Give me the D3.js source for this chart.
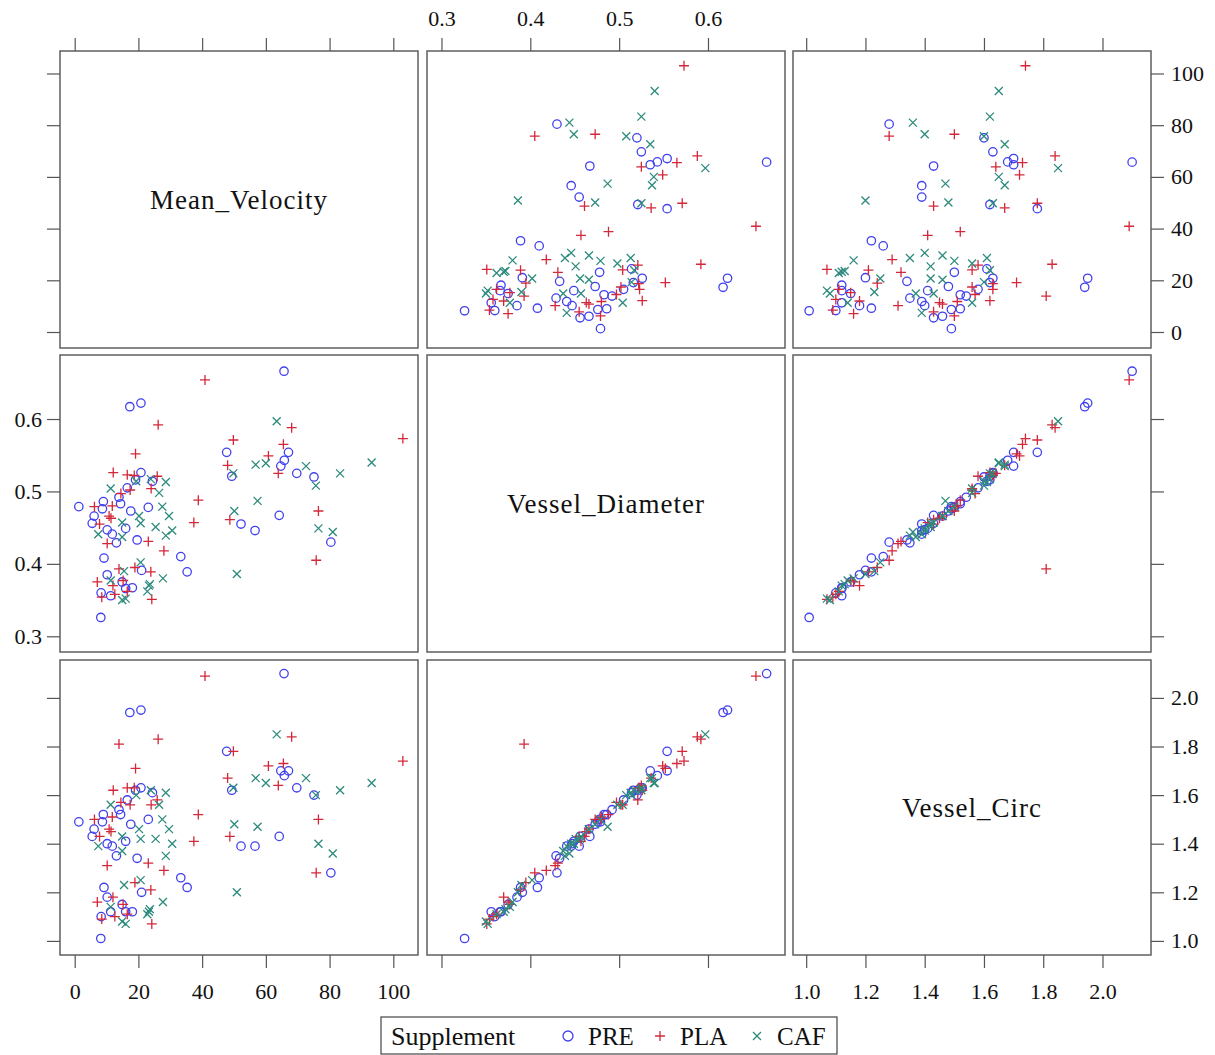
<!DOCTYPE html>
<meta charset="utf-8">
<title>Scatter matrix</title>
<body style="margin:0;background:#fff">
<style>
  text { font-family: "Liberation Serif", "Times New Roman", serif; fill: #111; }
  .tick line { stroke: #555; stroke-width: 1.2; }
  .tick text { font-size: 22px; }
</style>
<div id="matrix"></div>
<script src="https://d3js.org/d3.v7.min.js"></script>
<script>

// variables, groups and axis ticks
var varNames = ["Mean_Velocity", "Vessel_Diameter", "Vessel_Circ"];
var groups = ["PRE", "PLA", "CAF"];
var velocityTicks = [0, 20, 40, 60, 80, 100];
var diameterTicks = [0.3, 0.4, 0.5, 0.6];
var circTicks = [1.0, 1.2, 1.4, 1.6, 1.8, 2.0];

// PRE
var preVelocity = [17.3,20.8,20.8,16.5,24.4,19.1,13.9,9.0,1.3,23.1,14.4,8.7,17.6,6.1,5.5,16.0,10.2,11.8,13.1,19.6,33.3,9.2,21.0,35.3,10.2,14.9,18.1,8.3,11.3,8.2,65.7,47.7,67.1,65.8,64.7,49.3,69.7,75.1,52.2,64.2,56.6,80.4,16.0];
var preDiameter = [0.617,0.622,0.526,0.505,0.514,0.516,0.492,0.486,0.479,0.478,0.483,0.476,0.473,0.466,0.456,0.449,0.447,0.441,0.429,0.433,0.410,0.408,0.391,0.389,0.385,0.375,0.367,0.360,0.356,0.326,0.666,0.554,0.554,0.543,0.535,0.521,0.525,0.520,0.455,0.467,0.446,0.430,0.366];
var preCirc = [1.94,1.95,1.63,1.58,1.61,1.62,1.54,1.52,1.49,1.50,1.52,1.49,1.48,1.46,1.43,1.41,1.40,1.39,1.35,1.34,1.26,1.22,1.20,1.22,1.18,1.15,1.12,1.10,1.12,1.01,2.10,1.78,1.70,1.68,1.70,1.62,1.63,1.60,1.39,1.43,1.39,1.28,1.12];

// PLA
var plaVelocity = [26.2,19.1,12.1,16.5,18.7,25.9,17.4,24.0,6.2,11.8,10.8,7.8,10.2,23.1,28.0,13.9,18.9,23.9,7.1,12.0,16.5,8.5,24.2,40.9,68.1,103.0,49.8,65.5,60.8,48.0,63.9,38.8,76.5,37.4,48.7,75.8,14.5,11.4,15.2,12.6];
var plaDiameter = [0.592,0.552,0.526,0.523,0.522,0.521,0.502,0.504,0.479,0.480,0.466,0.455,0.428,0.431,0.418,0.393,0.395,0.389,0.375,0.370,0.362,0.354,0.351,0.654,0.588,0.573,0.571,0.565,0.549,0.536,0.525,0.488,0.473,0.457,0.461,0.405,0.497,0.463,0.377,0.358];
var plaCirc = [1.83,1.71,1.62,1.63,1.63,1.58,1.56,1.56,1.50,1.51,1.46,1.43,1.31,1.32,1.29,1.81,1.24,1.21,1.16,1.18,1.11,1.09,1.07,2.09,1.84,1.74,1.78,1.73,1.72,1.67,1.64,1.52,1.50,1.41,1.43,1.28,1.57,1.45,1.15,1.10];

// CAF
var cafVelocity = [19.3,23.9,28.6,11.3,26.5,27.5,20.2,29.6,14.9,20.7,25.4,7.4,14.9,28.6,30.6,20.7,27.7,11.3,23.3,22.8,16.0,63.4,56.8,60.0,72.6,93.2,49.8,83.3,75.7,57.4,50.1,76.5,81.0,50.9,15.5,14.9,23.6];
var cafDiameter = [0.514,0.517,0.513,0.504,0.498,0.479,0.466,0.466,0.457,0.456,0.451,0.441,0.437,0.439,0.446,0.402,0.380,0.377,0.370,0.362,0.352,0.597,0.537,0.539,0.535,0.540,0.525,0.525,0.508,0.487,0.473,0.449,0.444,0.386,0.390,0.350,0.372];
var cafCirc = [1.60,1.62,1.61,1.56,1.56,1.50,1.46,1.46,1.43,1.42,1.42,1.39,1.37,1.35,1.40,1.25,1.16,1.14,1.12,1.11,1.07,1.85,1.67,1.65,1.67,1.65,1.63,1.62,1.60,1.47,1.48,1.40,1.36,1.20,1.23,1.08,1.13];

// build rows: one object per vessel
var series = {
  PRE: [preVelocity, preDiameter, preCirc],
  PLA: [plaVelocity, plaDiameter, plaCirc],
  CAF: [cafVelocity, cafDiameter, cafCirc]
};
var data = [];
groups.forEach(function(g) {
  series[g][0].forEach(function(v, i) {
    data.push({group: g, vals: [v, series[g][1][i], series[g][2][i]]});
  });
});

var width = 1215, height = 1055;
var colX = [60, 427, 793], cellW = 358;
var rowY = [51, 355, 660], cellH = [297, 297, 295];

// value range across each column / down each row
var xDomains = [[-4.61, 107.75], [0.2837, 0.6867], [0.9555, 2.1637]];
var yDomains = [[-6.19, 108.7], [0.2783, 0.6884], [0.942, 2.156]];
var tickSets = [velocityTicks, diameterTicks, circTicks];
var tickFormats = [d3.format("d"), d3.format(".1f"), d3.format(".1f")];

var xScales = xDomains.map(function(dom, c) {
  return d3.scaleLinear().domain(dom).range([colX[c], colX[c] + cellW]);
});
var yScales = yDomains.map(function(dom, r) {
  return d3.scaleLinear().domain(dom).range([rowY[r] + cellH[r], rowY[r]]);
});

var color = d3.scaleOrdinal().domain(groups).range(["#4141ee", "#d2283a", "#2c8a7c"]);
var shape = {
  PRE: null,
  PLA: "M-5,0H5M0,-5V5",
  CAF: "M-4,-4L4,4M-4,4L4,-4"
};

var svg = d3.select("#matrix").append("svg")
  .attr("width", width)
  .attr("height", height);

// cells
for (var r = 0; r < 3; r++) {
  for (var c = 0; c < 3; c++) {
    var cell = svg.append("g");
    cell.append("rect")
      .attr("x", colX[c]).attr("y", rowY[r])
      .attr("width", cellW).attr("height", cellH[r])
      .attr("fill", "#fff")
      .attr("stroke", "#5f5f5f")
      .attr("stroke-width", 1.5);

    if (r === c) {
      cell.append("text")
        .attr("x", colX[c] + cellW / 2)
        .attr("y", rowY[r] + cellH[r] / 2)
        .attr("text-anchor", "middle")
        .attr("dominant-baseline", "central")
        .style("font-size", "27px")
        .style("letter-spacing", "1px")
        .text(varNames[r]);
      continue;
    }

    var xs = xScales[c], ys = yScales[r];
    groups.forEach(function(g) {
      var pts = data.filter(function(d) { return d.group === g; });
      if (g === "PRE") {
        cell.selectAll(null).data(pts).enter().append("circle")
          .attr("cx", function(d) { return xs(d.vals[c]); })
          .attr("cy", function(d) { return ys(d.vals[r]); })
          .attr("r", 4.2)
          .attr("fill", "none")
          .attr("stroke", color(g))
          .attr("stroke-width", 1.3);
      } else {
        cell.selectAll(null).data(pts).enter().append("path")
          .attr("transform", function(d) { return "translate(" + xs(d.vals[c]) + "," + ys(d.vals[r]) + ")"; })
          .attr("d", shape[g])
          .attr("fill", "none")
          .attr("stroke", color(g))
          .attr("stroke-width", 1.3);
      }
    });
  }
}

// axes: labelled on alternating outer sides, bare ticks on the other side
var edgeTop = rowY[0], edgeBottom = rowY[2] + cellH[2];
var edgeLeft = colX[0], edgeRight = colX[2] + cellW;

function drawAxis(axis, transform, labelled) {
  var g = svg.append("g").attr("transform", transform).call(axis);
  g.select(".domain").remove();
  if (!labelled) g.selectAll(".tick text").remove();
  return g;
}

for (var i = 0; i < 3; i++) {
  var labelBottom = (i !== 1);
  drawAxis(d3.axisBottom(xScales[i]).tickValues(tickSets[i]).tickFormat(tickFormats[i]).tickSize(13).tickPadding(15),
    "translate(0," + edgeBottom + ")", labelBottom);
  drawAxis(d3.axisTop(xScales[i]).tickValues(tickSets[i]).tickFormat(tickFormats[i]).tickSize(13).tickPadding(12),
    "translate(0," + edgeTop + ")", !labelBottom);

  var labelRight = (i !== 1);
  drawAxis(d3.axisRight(yScales[i]).tickValues(tickSets[i]).tickFormat(tickFormats[i]).tickSize(13).tickPadding(7),
    "translate(" + edgeRight + ",0)", labelRight);
  drawAxis(d3.axisLeft(yScales[i]).tickValues(tickSets[i]).tickFormat(tickFormats[i]).tickSize(13).tickPadding(5),
    "translate(" + edgeLeft + ",0)", !labelRight);
}

// legend
var legend = svg.append("g");
legend.append("rect")
  .attr("x", 381).attr("y", 1017)
  .attr("width", 456).attr("height", 37)
  .attr("fill", "#fff")
  .attr("stroke", "#444")
  .attr("stroke-width", 1.2);
legend.append("text")
  .attr("x", 391).attr("y", 1045)
  .style("font-size", "26px")
  .text("Supplement");

var legendX = [568, 660, 757];
groups.forEach(function(g, i) {
  if (g === "PRE") {
    legend.append("circle")
      .attr("cx", legendX[i]).attr("cy", 1036).attr("r", 5)
      .attr("fill", "none").attr("stroke", color(g)).attr("stroke-width", 1.3);
  } else {
    legend.append("path")
      .attr("transform", "translate(" + legendX[i] + ",1036)")
      .attr("d", shape[g])
      .attr("fill", "none").attr("stroke", color(g)).attr("stroke-width", 1.3);
  }
  legend.append("text")
    .attr("x", legendX[i] + 20).attr("y", 1045)
    .style("font-size", "25px")
    .text(g);
});

</script>
